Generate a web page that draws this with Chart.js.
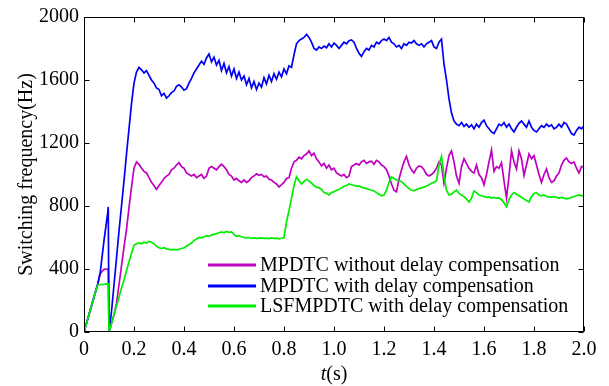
<!DOCTYPE html>
<html>
<head>
<meta charset="utf-8">
<script src="https://cdn.jsdelivr.net/npm/chart.js@4/dist/chart.umd.min.js"></script>
<style>
  html, body { margin: 0; padding: 0; background: #fff; }
  #c { display: block; }
</style>
</head>
<body>
<canvas id="c" width="609" height="386"></canvas>
<script>
// Sampling instants (s): start-up transient, then a regular 10 ms grid
const timeS = [0, 0.02, 0.04, 0.055, 0.065, 0.08, 0.095, 0.097, 0.1];
for (let i = 11; i <= 200; i++) timeS.push(i / 100);

// MPDTC without delay compensation (Hz)
const mpdtcNoComp = [
  0, 111, 222, 305, 370, 398, 400, 400, 0,
  50, 110, 180, 300, 420, 540, 650, 790, 920, 1040,
  1080, 1065, 1040, 1020, 1010, 980, 950, 930, 905, 930,
  950, 975, 990, 1000, 1030, 1040, 1060, 1075, 1050, 1040,
  1010, 1000, 990, 1000, 980, 990, 1000, 975, 990, 1040,
  1050, 1040, 1030, 1050, 1065, 1050, 1030, 1000, 990, 965,
  975, 960, 950, 965, 950, 960, 980, 990, 1005, 995,
  1000, 985, 990, 970, 965, 950, 940, 920, 935, 950,
  975, 980, 1040, 1080, 1090, 1110, 1100, 1120, 1130, 1150,
  1120, 1135, 1100, 1080, 1055, 1070, 1040, 1060, 1030, 1040,
  1010, 1000, 990, 1000, 980, 990, 1050, 1060, 1070, 1060,
  1080, 1090, 1070, 1080, 1085, 1065, 1090, 1080, 1060, 1050,
  1030, 990, 940, 900, 890, 970, 1030, 1080, 1115, 1060,
  1030, 1010, 1040, 1055, 1050, 1030, 1000, 990, 1000, 1015,
  1040, 1080, 1060, 945, 1040, 1120, 1150, 1080, 990, 945,
  1050, 1100, 1070, 1040, 1020, 1010, 1060, 1000, 980, 935,
  1000, 1080, 1155, 1020, 1050, 1040, 1075, 960, 850, 990,
  1150, 1080, 1035, 1150, 1100, 995, 1060, 1130, 1100, 1120,
  1060, 1000, 950, 1000, 1035, 980, 950, 960, 990, 1010,
  1060, 1090, 1105, 1080, 1070, 1080, 1040, 1010, 1050, 1050
];

// MPDTC with delay compensation (Hz)
const mpdtcComp = [
  0, 111, 222, 305, 380, 580, 760, 794, 0,
  130, 300, 470, 640, 800, 960, 1130, 1290, 1450, 1580,
  1650, 1680, 1665, 1645, 1660, 1630, 1600, 1580, 1550, 1540,
  1500, 1515, 1485, 1500, 1520, 1530, 1560, 1570, 1555, 1535,
  1545, 1580, 1610, 1645, 1670, 1695, 1720, 1700, 1740, 1765,
  1715, 1745, 1695, 1725, 1660, 1705, 1645, 1685, 1625, 1670,
  1610, 1650, 1600, 1625, 1570, 1610, 1550, 1590, 1540, 1580,
  1555, 1615, 1575, 1630, 1590, 1640, 1605, 1650, 1620, 1670,
  1640, 1690, 1680, 1760, 1830, 1850, 1860, 1870, 1890, 1870,
  1840, 1800, 1790, 1810, 1800, 1815, 1805, 1830, 1810, 1835,
  1820, 1800, 1820, 1840, 1830, 1850, 1855, 1840, 1800, 1770,
  1750, 1780, 1800, 1790, 1820, 1810, 1840, 1830, 1850, 1860,
  1850, 1870, 1840, 1830, 1810, 1820, 1800, 1830, 1820, 1840,
  1835, 1850, 1830, 1820, 1830, 1810, 1830, 1840, 1850, 1810,
  1800, 1840, 1860, 1700, 1600, 1480, 1390, 1340, 1320, 1310,
  1330, 1305, 1320, 1300, 1315, 1290, 1320, 1300, 1330, 1345,
  1310, 1290, 1270, 1260, 1290, 1320, 1310, 1330, 1300, 1320,
  1290, 1270, 1300, 1325, 1340, 1320, 1300, 1340, 1300, 1280,
  1270, 1290, 1310, 1300, 1320, 1305, 1315, 1290, 1300, 1320,
  1300, 1330, 1320, 1290, 1260, 1250, 1280, 1300, 1290, 1310
];

// LSFMPDTC with delay compensation (Hz)
const lsfmpdtcComp = [
  0, 111, 222, 300, 300, 302, 305, 305, 0,
  55, 110, 165, 220, 280, 330, 390, 445, 500, 550,
  560, 565, 560, 570, 565, 575, 570, 560, 545, 535,
  530, 535, 528, 525, 522, 525, 522, 525, 530, 535,
  545, 555, 565, 580, 590, 600, 598, 605, 610, 608,
  615, 620, 625, 630, 635, 630, 638, 632, 635, 620,
  608, 612, 605, 600, 598, 600, 595, 598, 594, 596,
  598, 594, 596, 593, 597, 594, 596, 592, 595, 600,
  700, 770, 850, 930, 985, 960, 940, 955, 970, 960,
  945, 930, 920, 915, 905, 885, 880, 870, 885, 890,
  900, 905, 915, 925, 930, 940, 935, 930, 925, 928,
  920, 915, 910, 905, 900, 895, 885, 875, 865, 870,
  900, 950, 985, 975, 965, 960, 955, 940, 925, 910,
  900, 898, 905, 910, 915, 920, 925, 935, 945, 950,
  960, 1060, 1115, 990, 900, 870, 875, 890, 900, 880,
  870, 860, 845, 825, 850, 895, 885, 870, 865, 860,
  855, 858, 850, 855, 850, 852, 840, 820, 795, 840,
  870, 885, 875, 865, 855, 845, 835, 825, 860, 880,
  885, 870, 865, 870, 860, 858, 855, 860, 855, 850,
  855, 850, 845, 848, 855, 860, 865, 870, 865, 868
];

const seriesLabels = [
  'MPDTC without delay compensation',
  'MPDTC with delay compensation',
  'LSFMPDTC with delay compensation'
];
const seriesColors = ['#c000c0', '#0000f5', '#00ee00'];

const xTicks = [0, 0.2, 0.4, 0.6, 0.8, 1.0, 1.2, 1.4, 1.6, 1.8, 2.0];
const yTicks = [0, 400, 800, 1200, 1600, 2000];

const FONT = "'Liberation Serif', 'Times New Roman', serif";

function toPoints(vals) {
  return vals.map((v, i) => ({ x: timeS[i], y: v }));
}

// Box frame, inward tick marks, in-plot legend and the x-axis title
const framePlugin = {
  id: 'frame',
  afterDatasetsDraw(chart) {
    const { ctx, chartArea: a, scales: { x, y } } = chart;
    ctx.save();
    ctx.strokeStyle = '#000';
    ctx.lineWidth = 1;
    const L = Math.round(a.left) + 0.5, R = Math.round(a.right) - 0.5;
    const T = Math.round(a.top) + 0.5, B = Math.round(a.bottom) - 0.5;
    ctx.strokeRect(L, T, R - L, B - T);
    const tl = 5;
    ctx.beginPath();
    xTicks.forEach(v => {
      const px = Math.round(x.getPixelForValue(v)) + 0.5;
      ctx.moveTo(px, B); ctx.lineTo(px, B - tl);
      ctx.moveTo(px, T); ctx.lineTo(px, T + tl);
    });
    yTicks.forEach(v => {
      const py = Math.round(y.getPixelForValue(v)) + 0.5;
      ctx.moveTo(L, py); ctx.lineTo(L + tl, py);
      ctx.moveTo(R, py); ctx.lineTo(R - tl, py);
    });
    ctx.stroke();

    // legend
    const lx0 = 208, lx1 = 256, tx = 260, rowY = [265, 286, 306];
    ctx.font = '20px ' + FONT;
    ctx.textBaseline = 'middle';
    ctx.textAlign = 'left';
    seriesLabels.forEach((lab, i) => {
      ctx.strokeStyle = seriesColors[i];
      ctx.lineWidth = 3;
      ctx.beginPath();
      ctx.moveTo(lx0, rowY[i]); ctx.lineTo(lx1, rowY[i]);
      ctx.stroke();
      ctx.fillStyle = '#000';
      ctx.fillText(lab, tx, rowY[i] + 1);
    });

    // x-axis title: italic t followed by (s)
    ctx.fillStyle = '#000';
    ctx.textBaseline = 'alphabetic';
    ctx.font = 'italic 20px ' + FONT;
    const tW = ctx.measureText('t').width;
    ctx.font = '20px ' + FONT;
    const sW = ctx.measureText('(s)').width;
    const cx = (a.left + a.right) / 2;
    const start = cx - (tW + sW) / 2;
    ctx.font = 'italic 20px ' + FONT;
    ctx.fillText('t', start, 380);
    ctx.font = '20px ' + FONT;
    ctx.fillText('(s)', start + tW, 380);
    ctx.restore();
  }
};

new Chart(document.getElementById('c'), {
  type: 'line',
  data: {
    datasets: [
      { label: seriesLabels[0], data: toPoints(mpdtcNoComp), borderColor: seriesColors[0], order: 3 },
      { label: seriesLabels[1], data: toPoints(mpdtcComp), borderColor: seriesColors[1], order: 2 },
      { label: seriesLabels[2], data: toPoints(lsfmpdtcComp), borderColor: seriesColors[2], order: 1 }
    ].map(d => Object.assign(d, { borderWidth: 1.7, pointRadius: 0, tension: 0, fill: false }))
  },
  options: {
    responsive: false,
    animation: false,
    layout: { padding: { top: 12, right: 25, left: 0, bottom: 0 } },
    plugins: { legend: { display: false }, tooltip: { enabled: false } },
    scales: {
      x: {
        type: 'linear',
        min: 0, max: 2,
        afterFit(s) { s.height = 54; },
        afterBuildTicks(s) { s.ticks = xTicks.map(v => ({ value: v })); },
        grid: { display: false, drawTicks: false, tickLength: 0 },
        border: { display: false },
        ticks: {
          padding: 6,
          color: '#000',
          maxRotation: 0,
          autoSkip: false,
          font: { family: FONT, size: 20 },
          callback: v => (v === 0 ? '0' : Number(v).toFixed(1))
        }
      },
      y: {
        min: 0, max: 2000,
        afterFit(s) { s.width = 84; },
        afterBuildTicks(s) { s.ticks = yTicks.map(v => ({ value: v })); },
        grid: { display: false, drawTicks: false, tickLength: 0 },
        border: { display: false },
        ticks: {
          padding: 5,
          color: '#000',
          font: { family: FONT, size: 20 },
          callback: v => String(v)
        },
        title: {
          display: true,
          text: 'Switching frequency(Hz)',
          color: '#000',
          font: { family: FONT, size: 20 },
          padding: { top: 15, bottom: 0 }
        }
      }
    }
  },
  plugins: [framePlugin]
});
</script>
</body>
</html>
